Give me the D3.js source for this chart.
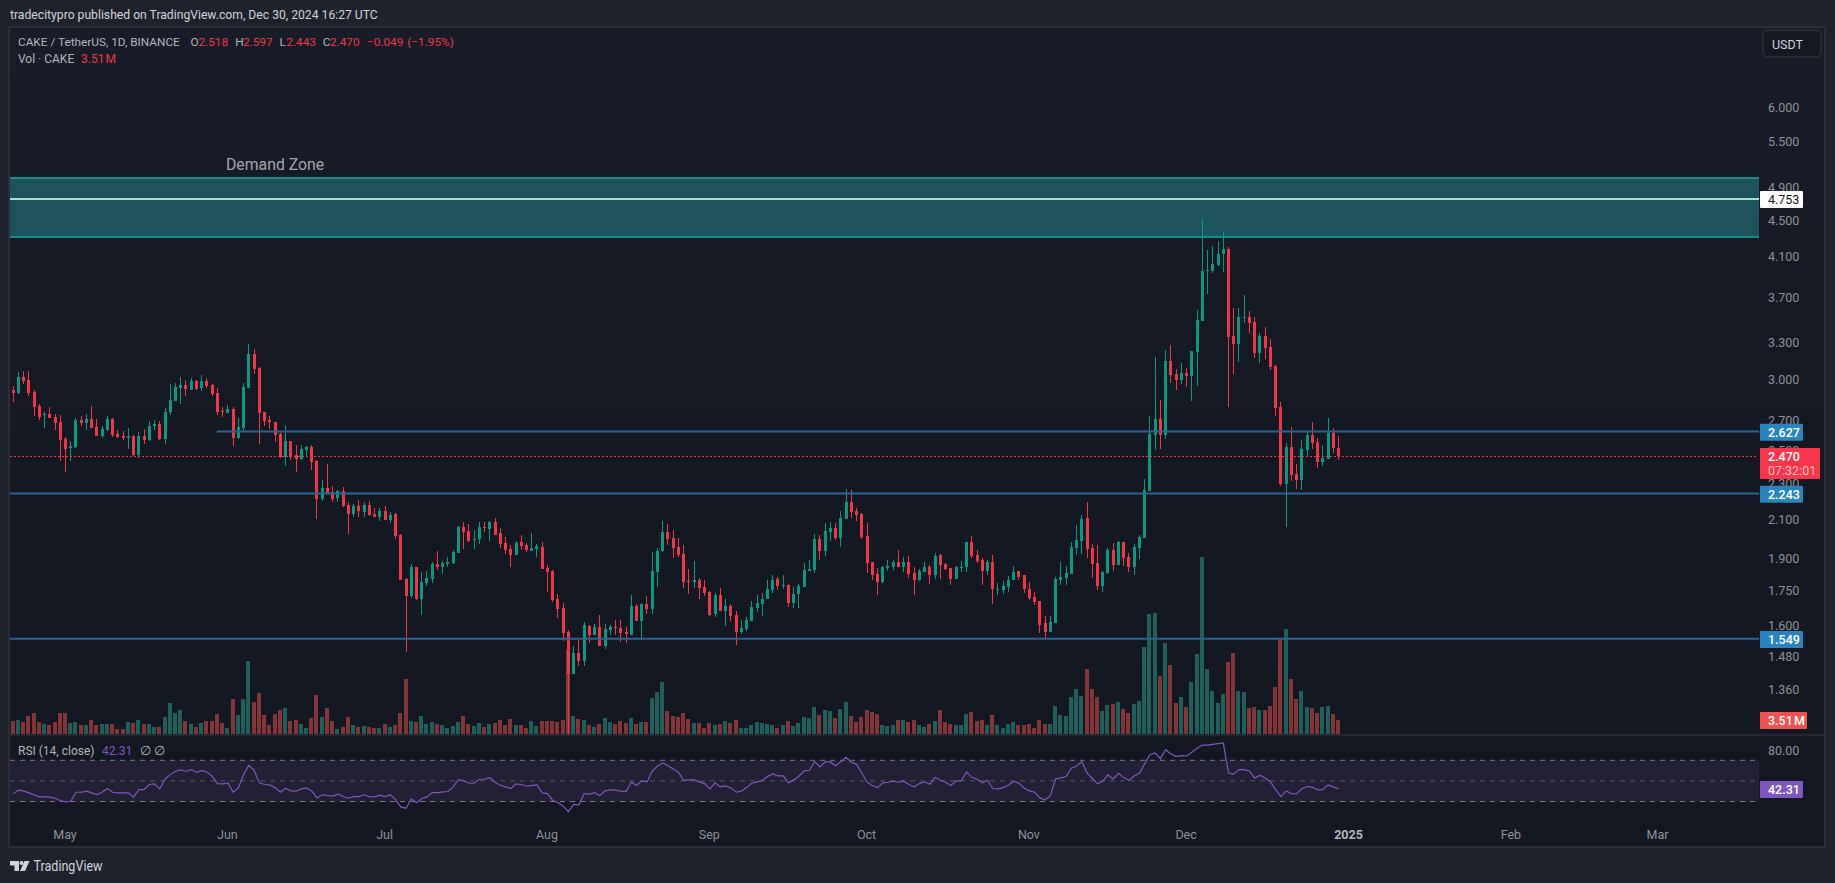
<!DOCTYPE html>
<html><head><meta charset="utf-8"><title>CAKE / TetherUS</title>
<script src="https://cdn.jsdelivr.net/npm/d3@7/dist/d3.min.js"></script>
<style>html,body{margin:0;padding:0;background:#1e222d;overflow:hidden}svg{display:block}text{font-family:Roboto,"Open Sans",sans-serif}</style>
</head><body><svg id="c" width="1835" height="883"></svg>
<script>
const startDate = "2024-04-21";
const monthTicks = [["2024-05-01","May"],["2024-06-01","Jun"],["2024-07-01","Jul"],["2024-08-01","Aug"],["2024-09-01","Sep"],["2024-10-01","Oct"],["2024-11-01","Nov"],["2024-12-01","Dec"],["2025-01-01","2025"],["2025-02-01","Feb"],["2025-03-01","Mar"]];
const priceTicks = [6,5.5,4.9,4.5,4.1,3.7,3.3,3,2.7,2.5,2.3,2.1,1.9,1.75,1.6,1.48,1.36];
const opens = [2.920,2.898,3.019,2.996,2.905,2.803,2.741,2.748,2.725,2.691,
2.577,2.519,2.526,2.705,2.684,2.712,2.657,2.596,2.636,2.712,
2.609,2.596,2.583,2.596,2.474,2.596,2.570,2.664,2.678,2.577,
2.762,2.840,2.935,2.958,2.920,2.988,2.935,2.988,2.958,2.898,
2.769,2.755,2.782,2.583,2.650,2.935,3.200,3.090,2.762,2.705,
2.691,2.609,2.461,2.564,2.474,2.449,2.507,2.526,2.436,2.212,
2.274,2.252,2.218,2.257,2.178,2.130,2.173,2.141,2.178,2.130,
2.114,2.146,2.097,2.130,2.018,1.804,1.727,1.859,1.715,1.786,
1.804,1.874,1.859,1.874,1.879,1.927,2.058,2.037,1.992,1.997,
2.058,2.048,2.085,2.028,1.977,1.948,1.917,1.982,1.967,1.937,
1.948,1.958,1.855,1.841,1.715,1.675,1.576,1.416,1.494,1.464,
1.600,1.564,1.596,1.521,1.584,1.596,1.592,1.576,1.564,1.684,
1.620,1.693,1.671,1.836,1.937,2.032,2.003,1.958,1.922,1.795,
1.790,1.800,1.767,1.745,1.651,1.732,1.662,1.684,1.647,1.576,
1.588,1.620,1.675,1.693,1.715,1.754,1.804,1.772,1.776,1.697,
1.736,1.767,1.841,1.846,1.997,1.937,2.032,2.053,2.003,2.102,
2.195,2.146,2.130,2.013,1.884,1.827,1.790,1.855,1.859,1.884,
1.859,1.884,1.832,1.800,1.836,1.859,1.822,1.917,1.874,1.855,
1.804,1.855,1.859,1.982,1.917,1.894,1.841,1.884,1.754,1.754,
1.767,1.800,1.841,1.822,1.759,1.723,1.706,1.612,1.576,1.612,
1.800,1.809,1.827,1.953,1.987,2.108,1.953,1.879,1.772,1.832,
1.941,1.869,1.982,1.907,1.859,1.953,2.003,2.257,2.603,2.712,
2.603,3.143,3.042,2.996,3.050,3.026,3.216,3.482,3.955,3.955,
4.017,4.130,4.183,3.351,3.283,3.507,3.516,3.472,3.208,3.351,
3.258,3.106,2.796,2.298,2.526,2.357,2.323,2.507,2.603,2.557,
2.430,2.449,2.616,2.518];
const closes = [2.898,3.019,2.988,2.898,2.796,2.725,2.748,2.718,2.684,2.570,
2.513,2.532,2.705,2.684,2.712,2.650,2.596,2.643,2.712,2.603,
2.590,2.583,2.596,2.474,2.596,2.570,2.664,2.678,2.577,2.762,
2.847,2.943,2.958,2.928,2.988,2.928,2.988,2.950,2.891,2.762,
2.762,2.782,2.583,2.657,2.943,3.200,3.082,2.755,2.698,2.691,
2.603,2.461,2.564,2.461,2.449,2.513,2.526,2.430,2.212,2.274,
2.246,2.212,2.257,2.173,2.130,2.173,2.146,2.178,2.125,2.114,
2.146,2.097,2.125,2.013,1.800,1.727,1.859,1.715,1.790,1.809,
1.874,1.859,1.879,1.884,1.932,2.058,2.032,1.987,1.997,2.058,
2.053,2.085,2.018,1.972,1.941,1.917,1.977,1.962,1.941,1.953,
1.962,1.851,1.836,1.711,1.671,1.572,1.416,1.494,1.464,1.604,
1.564,1.596,1.521,1.588,1.596,1.592,1.572,1.568,1.684,1.620,
1.693,1.671,1.841,1.937,2.032,1.997,1.953,1.917,1.790,1.790,
1.800,1.763,1.741,1.647,1.732,1.662,1.684,1.642,1.576,1.592,
1.625,1.680,1.697,1.715,1.759,1.800,1.772,1.776,1.697,1.736,
1.772,1.846,1.851,1.997,1.937,2.037,2.053,2.003,2.108,2.195,
2.141,2.125,2.008,1.879,1.822,1.790,1.859,1.864,1.884,1.859,
1.884,1.827,1.800,1.841,1.859,1.822,1.912,1.869,1.851,1.804,
1.859,1.859,1.982,1.912,1.889,1.841,1.884,1.759,1.759,1.772,
1.800,1.836,1.813,1.759,1.719,1.702,1.605,1.576,1.616,1.804,
1.813,1.832,1.958,1.992,2.102,1.948,1.874,1.772,1.836,1.941,
1.869,1.982,1.902,1.859,1.958,2.008,2.263,2.609,2.712,2.603,
3.143,3.034,2.996,3.050,3.026,3.224,3.491,3.955,3.965,4.026,
4.130,4.183,3.342,3.283,3.516,3.516,3.464,3.208,3.351,3.249,
3.098,2.789,2.298,2.526,2.351,2.323,2.513,2.603,2.551,2.430,
2.455,2.616,2.518,2.470];
const highs = [2.950,3.058,3.065,3.065,2.920,2.817,2.762,2.796,2.748,2.741,
2.590,2.564,2.718,2.732,2.748,2.803,2.712,2.664,2.732,2.718,
2.636,2.629,2.650,2.603,2.623,2.643,2.698,2.705,2.698,2.789,
2.965,2.970,3.019,2.996,3.011,2.996,3.034,3.011,2.965,2.935,
2.796,2.810,2.796,2.718,2.970,3.283,3.241,3.098,2.762,2.732,
2.691,2.616,2.671,2.564,2.538,2.538,2.532,2.538,2.442,2.323,
2.419,2.286,2.263,2.280,2.195,2.184,2.206,2.195,2.201,2.162,
2.162,2.173,2.141,2.135,2.024,1.809,1.874,1.859,1.836,1.841,
1.884,1.937,1.889,1.908,1.941,2.064,2.085,2.074,2.043,2.085,
2.085,2.090,2.108,2.053,2.008,1.967,1.987,2.018,1.977,2.028,
1.972,1.982,1.869,1.846,1.736,1.697,1.584,1.521,1.544,1.616,
1.604,1.608,1.647,1.608,1.604,1.625,1.625,1.596,1.732,1.693,
1.697,1.727,1.932,1.953,2.090,2.074,2.043,2.003,1.967,1.851,
1.889,1.809,1.800,1.750,1.741,1.763,1.715,1.693,1.662,1.625,
1.638,1.706,1.732,1.741,1.800,1.822,1.813,1.822,1.781,1.767,
1.781,1.879,1.894,2.024,2.018,2.080,2.085,2.080,2.146,2.269,
2.263,2.162,2.135,2.080,1.884,1.855,1.864,1.894,1.894,1.941,
1.908,1.912,1.859,1.851,1.884,1.869,1.927,1.922,1.879,1.855,
1.864,1.889,1.982,2.013,1.941,1.902,1.894,1.917,1.786,1.795,
1.818,1.864,1.841,1.822,1.790,1.745,1.706,1.642,1.642,1.813,
1.884,1.864,1.982,2.071,2.125,2.195,1.972,1.967,1.841,1.953,
1.977,1.987,1.982,1.927,1.972,2.018,2.329,2.732,3.175,2.847,
3.231,3.275,3.082,3.127,3.090,3.224,3.581,4.516,4.173,4.215,
4.269,4.368,4.204,3.599,3.599,3.720,3.572,3.516,3.377,3.429,
3.326,3.114,2.833,2.551,2.657,2.419,2.570,2.629,2.691,2.583,
2.538,2.718,2.650,2.597];
const lows = [2.833,2.891,2.965,2.876,2.732,2.705,2.650,2.718,2.636,2.436,
2.369,2.436,2.519,2.664,2.636,2.650,2.596,2.583,2.629,2.590,
2.583,2.570,2.513,2.467,2.455,2.545,2.564,2.636,2.570,2.545,
2.741,2.840,2.817,2.876,2.920,2.920,2.913,2.935,2.876,2.741,
2.725,2.755,2.532,2.577,2.629,2.935,3.042,2.545,2.664,2.643,
2.557,2.455,2.407,2.442,2.369,2.442,2.467,2.382,2.102,2.201,
2.246,2.195,2.195,2.167,2.024,2.114,2.114,2.114,2.119,2.114,
2.092,2.097,2.081,1.997,1.800,1.498,1.718,1.711,1.647,1.772,
1.786,1.846,1.827,1.859,1.874,1.927,1.948,1.982,1.948,1.972,
2.032,1.987,2.018,1.953,1.922,1.859,1.917,1.941,1.932,1.937,
1.908,1.851,1.745,1.702,1.633,1.540,1.210,1.416,1.445,1.445,
1.532,1.564,1.521,1.510,1.564,1.564,1.536,1.532,1.564,1.620,
1.544,1.651,1.651,1.767,1.932,1.967,1.902,1.908,1.763,1.736,
1.763,1.715,1.727,1.642,1.638,1.662,1.600,1.620,1.525,1.568,
1.580,1.620,1.658,1.642,1.715,1.741,1.754,1.759,1.680,1.675,
1.675,1.767,1.841,1.832,1.894,1.912,1.987,1.992,1.958,2.102,
2.108,2.090,1.997,1.832,1.800,1.732,1.786,1.841,1.846,1.859,
1.836,1.809,1.732,1.795,1.836,1.781,1.804,1.804,1.846,1.776,
1.804,1.836,1.836,1.902,1.879,1.776,1.822,1.693,1.732,1.736,
1.745,1.800,1.800,1.741,1.711,1.688,1.572,1.552,1.576,1.612,
1.776,1.776,1.827,1.917,1.922,1.902,1.809,1.754,1.745,1.827,
1.841,1.869,1.864,1.836,1.822,1.897,2.003,2.257,2.507,2.513,
2.577,2.970,2.920,2.965,2.943,2.840,2.950,3.482,3.730,3.934,
4.006,3.945,2.796,3.042,3.135,3.464,3.377,3.168,3.127,3.159,
3.073,2.732,2.286,2.060,2.316,2.269,2.263,2.461,2.513,2.394,
2.407,2.449,2.486,2.443];
const volumes = [3.25,3.5,3,4.5,5.25,3,2.5,2.25,3,5.25,
5.25,2.75,3,2.25,2.25,3.5,2.25,2.5,2.5,2.5,
1.25,1.25,3,2.75,3.5,2.5,2.5,1.75,1.75,4.25,
7.75,5.25,6,3.25,2.5,1.75,2.75,3.25,3.25,5,
2.75,1.5,8.75,4.75,8.75,18.25,8,10.25,4.75,2.25,
5,6,6.5,3.25,3.5,2.5,1.5,4,9.75,4.25,
6.5,3.25,1.25,1.75,4.25,2.25,1.75,2,1.75,1.5,
1.5,2.5,1.75,2.25,5.25,13.75,3.25,3,4.5,2.5,
3,2.5,2.25,1.5,2,3,4.5,2.5,2,2.75,
1.75,2.5,2.75,3.5,2.25,3.75,2.25,2.25,1.5,3.25,
2,3.25,3.25,3.25,3,3.5,21,4.5,3.75,3.5,
2.25,1.75,2.5,4,3,2.5,3.25,2.75,4,2.5,
3,3,9,10.5,13,5.75,4.5,4.25,5.25,3.75,
2.75,2.75,1.5,2.75,2.25,2.5,3.25,2.75,3.5,1.5,
1.5,2.25,3,2.75,2.5,2.25,1.5,2.25,3.25,2,
2.75,4.25,4,6.75,4.75,6,5.75,4,6.25,8,
4.5,3,4.25,6,5.5,5,2.25,2,2.25,3.5,
3.5,3,3.5,2.25,1.75,2.5,3.25,6,3,2.5,
2.25,2.25,5,5.5,3.25,3.5,2.25,4.75,2.25,1.5,
2.5,3,2.25,2.25,2.5,1.5,3.5,2.5,2.5,7,
4.75,4.5,9.25,11.25,9.5,16.25,11.25,9.25,5.75,7.25,
7.5,8,6.25,5.25,7.5,8.25,21.75,30,30.25,14.5,
22.75,17.25,7.75,9.25,6.75,13,20,44.25,16.25,10.75,
7.75,10,18,20.25,10.75,10.5,6.5,6.75,6,6,
7,11.75,23.75,26.25,13.75,8.75,10.75,6.75,6.5,5.25,
6.75,7,5,3.51];
const rsi = [37.4,41.0,40.3,38.4,36.5,34.5,34.5,34.2,33.2,31.0,
29.7,30.0,39.0,39.0,40.0,38.4,36.8,39.0,42.6,39.0,
38.4,38.4,38.4,34.2,41.6,41.6,46.5,47.1,42.3,51.9,
56.1,59.4,60.6,59.4,61.0,58.4,60.0,58.7,54.5,47.4,
47.1,48.1,39.0,43.2,56.1,65.2,60.3,48.1,46.5,46.1,
43.5,39.0,42.9,40.3,40.0,42.3,43.2,40.3,33.5,36.5,
35.8,35.2,37.1,34.8,33.2,34.8,34.8,36.5,34.8,34.5,
36.1,34.8,36.5,31.9,24.8,23.5,32.6,28.7,32.9,34.5,
38.7,38.7,39.4,39.7,44.2,51.3,50.3,47.7,47.7,51.6,
51.6,53.2,48.7,45.8,44.2,42.6,47.1,46.5,44.8,45.5,
46.1,38.4,37.7,31.0,29.0,25.5,20.3,27.1,26.8,37.7,
37.1,38.7,35.8,40.3,41.3,41.0,40.0,39.7,49.0,45.5,
50.0,49.0,59.4,64.5,67.4,64.8,61.6,58.4,50.6,51.0,
51.0,49.0,47.4,42.3,48.1,44.2,45.2,43.2,39.0,40.0,
43.5,47.7,49.0,50.3,54.2,56.8,54.8,54.8,48.1,51.0,
54.5,59.7,60.3,68.7,63.5,68.4,68.4,64.5,68.7,72.9,
68.1,66.1,57.7,49.0,45.5,43.5,48.1,48.7,49.7,48.7,
49.7,46.5,44.2,47.4,49.0,46.8,53.5,50.6,48.7,45.5,
50.0,50.0,58.7,53.5,51.6,48.1,50.6,42.6,42.3,43.5,
46.1,49.4,47.7,42.9,40.3,39.0,33.5,31.6,35.8,51.9,
52.9,54.2,62.3,64.2,68.7,57.7,52.3,47.1,49.7,55.8,
51.9,57.4,53.2,50.6,54.8,57.4,66.8,75.5,77.1,71.6,
80.3,76.1,73.9,74.5,74.2,77.7,81.6,84.8,84.8,85.5,
86.1,86.8,57.7,56.5,61.0,61.0,59.7,52.6,55.5,52.9,
49.0,41.6,34.8,40.3,37.7,37.4,42.3,44.5,43.9,41.3,
41.6,46.1,44.2,42.31];
const zoneTop = 5.014, zoneBottom = 4.313;
const whiteLevel = 4.753;
const levels = [{v:2.627,from:"2024-05-30"},{v:2.243,from:null},{v:1.549,from:null}];
const lastPrice = 2.470, lastVolume = "3.51\u200aM", lastRsi = 42.31;

const svg = d3.select("#c");
const defs = svg.append("defs");
const grad = defs.append("linearGradient").attr("id","bg").attr("x1",0).attr("y1",0).attr("x2",0).attr("y2",1);
grad.append("stop").attr("offset",0).attr("stop-color","#181c28");
grad.append("stop").attr("offset",0.5).attr("stop-color","#141823");
grad.append("stop").attr("offset",1).attr("stop-color","#131722");

const x = d3.scaleUtc().domain([new Date("2024-05-01T00:00:00Z"),new Date("2024-12-30T00:00:00Z")]).range([65,1338]);
const y = d3.scaleLog().domain([1.549,4.753]).range([638.7,199]);
const yVol = d3.scaleLinear().domain([0,44.25]).range([734,557]);
const yRsi = d3.scaleLinear().domain([30,70]).range([801.5,760.3]);
const dates = opens.map((_,i)=>d3.utcDay.offset(new Date(startDate+"T00:00:00Z"),i));
const px = i=>Math.round(x(dates[i]));
const UP="#089981",DN="#f23645",VUP="#1f5f5c",VDN="#843538";
const L=10,R=1759,AX=1825;

// frame
svg.append("rect").attr("width",1835).attr("height",883).attr("fill","#1e222d");
svg.append("rect").attr("x",L-1).attr("y",27).attr("width",AX-L+1).attr("height",820).attr("fill","url(#bg)").attr("stroke","#2a2e39").attr("stroke-width",2);

// zone under price
const gZone = svg.append("g");
gZone.append("rect").attr("x",L).attr("y",y(zoneTop)).attr("width",R-L).attr("height",y(zoneBottom)-y(zoneTop)).attr("fill","#1c535c");
[zoneTop,zoneBottom].forEach(v=>gZone.append("line").attr("x1",L).attr("x2",R).attr("y1",Math.round(y(v))).attr("y2",Math.round(y(v))).attr("stroke","#1a8a8c").attr("stroke-width",2));
gZone.append("line").attr("x1",L).attr("x2",R).attr("y1",y(whiteLevel)).attr("y2",y(whiteLevel)).attr("stroke","#a4e0dc").attr("stroke-width",2);

// volume
svg.append("g").attr("shape-rendering","crispEdges").selectAll("rect").data(volumes).join("rect")
 .attr("x",(d,i)=>px(i)-2).attr("width",4).attr("y",d=>yVol(d)).attr("height",d=>yVol(0)-yVol(d))
 .attr("fill",(d,i)=>closes[i]>=opens[i]?VUP:VDN);

// candles
const gC = svg.append("g").attr("shape-rendering","crispEdges");
gC.selectAll("line").data(opens).join("line")
 .attr("x1",(d,i)=>px(i)+.5).attr("x2",(d,i)=>px(i)+.5)
 .attr("y1",(d,i)=>y(highs[i])).attr("y2",(d,i)=>y(lows[i]))
 .attr("stroke",(d,i)=>closes[i]>=d?UP:DN).attr("stroke-width",1);
gC.selectAll("rect").data(opens).join("rect")
 .attr("x",(d,i)=>px(i)-1).attr("width",3)
 .attr("y",(d,i)=>y(Math.max(d,closes[i])))
 .attr("height",(d,i)=>Math.max(1,Math.abs(y(d)-y(closes[i]))))
 .attr("fill",(d,i)=>closes[i]>=d?UP:DN);

// price line & levels
const ly = Math.round(y(lastPrice))+.5;
svg.append("line").attr("x1",L).attr("x2",1757).attr("y1",ly).attr("y2",ly).attr("stroke",DN).attr("stroke-width",1).attr("stroke-dasharray","2 2").attr("shape-rendering","crispEdges");
levels.forEach(l=>svg.append("line").attr("x1",l.from?x(new Date(l.from+"T00:00:00Z")):L).attr("x2",R).attr("y1",y(l.v)).attr("y2",y(l.v)).attr("stroke","#2a6496").attr("stroke-width",2));

// demand label
svg.append("text").attr("x",226).attr("y",170).attr("fill","#a3a6af").attr("font-size",15.8).text("Demand Zone");

// pane separator
svg.append("line").attr("x1",L).attr("x2",AX).attr("y1",735).attr("y2",735).attr("stroke","#2a2e39").attr("stroke-width",1.5);

// RSI
svg.append("rect").attr("x",L).attr("width",R-L).attr("y",yRsi(70)).attr("height",yRsi(30)-yRsi(70)).attr("fill","#231f35");
[[70,"#787b86"],[50,"#555862"],[30,"#787b86"]].forEach(([v,c])=>svg.append("line").attr("x1",L).attr("x2",R).attr("y1",yRsi(v)).attr("y2",yRsi(v)).attr("stroke",c).attr("stroke-width",1).attr("stroke-dasharray","5 5"));
svg.append("path").datum(rsi).attr("fill","none").attr("stroke","#7e57c2").attr("stroke-width",1.2)
 .attr("d",d3.line().x((d,i)=>x(dates[i])+.5).y(d=>yRsi(d)));

// price axis
svg.append("g").selectAll("text").data(priceTicks).join("text")
 .attr("x",1768).attr("y",d=>y(d)+4.5).attr("fill","#8f929b").attr("font-size",12.5).text(d=>d.toFixed(3));
svg.append("text").attr("x",1768).attr("y",yRsi(80)+4.5).attr("fill","#8f929b").attr("font-size",12.5).text("80.00");

// time axis
svg.append("g").selectAll("text").data(monthTicks).join("text")
 .attr("x",d=>x(new Date(d[0]+"T00:00:00Z"))).attr("y",838.5).attr("text-anchor","middle")
 .attr("fill",d=>d[1]==="2025"?"#b2b5be":"#8f929b").attr("font-size",12.5).attr("font-weight",d=>d[1]==="2025"?700:400).text(d=>d[1]);

// axis tags
function tag(xa,w,yc,h,fill,txt,col,bold){
 svg.append("rect").attr("x",xa).attr("y",yc-h/2).attr("width",w).attr("height",h).attr("fill",fill).attr("rx",1);
 svg.append("text").attr("x",1768).attr("y",yc+4.5).attr("fill",col).attr("font-size",12.5).attr("font-weight",bold?500:400).text(txt);
}
tag(1760,43,y(whiteLevel)+.6,17,"#ffffff",whiteLevel.toFixed(3),"#131722");
tag(1760,43,y(2.627)+.8,17,"#2a84bf","2.627","#ffffff",true);
tag(1760,43,y(2.243)+.8,17,"#2a84bf","2.243","#ffffff",true);
tag(1760,43,y(1.549)+.8,17,"#2a84bf","1.549","#ffffff",true);
svg.append("rect").attr("x",1760).attr("y",448).attr("width",60).attr("height",31).attr("fill","#f7364a").attr("rx",1);
svg.append("text").attr("x",1768).attr("y",461).attr("fill","#fff").attr("font-size",12.5).attr("font-weight",500).text("2.470");
svg.append("text").attr("x",1768).attr("y",475).attr("fill","#fbc1c7").attr("font-size",12.5).text("07:32:01");
tag(1760,47,720.5,17,"#ef5350",lastVolume,"#ffffff",true);
tag(1760,43,yRsi(lastRsi)+.7,17,"#7e57c2",lastRsi.toFixed(2),"#ffffff",true);

// USDT
svg.append("rect").attr("x",1763).attr("y",30.5).attr("width",58).attr("height",26.5).attr("rx",5).attr("fill","#131722").attr("stroke","#2a2e39").attr("stroke-width",1.5);
svg.append("text").attr("x",1772).attr("y",48.5).attr("fill","#d1d4dc").attr("font-size",12.5).text("USDT");

// header
svg.append("text").attr("x",10).attr("y",19).attr("fill","#d1d4dc").attr("font-size",12.17).text("tradecitypro published on TradingView.com, Dec 30, 2024 16:27 UTC");
const hdr=[[18,"CAKE / TetherUS, 1D, BINANCE","#b2b5be"],[190.6,"O","#b2b5be"],[198.5,"2.518",DN],[235.3,"H","#b2b5be"],[243,"2.597",DN],[279.6,"L","#b2b5be"],[286.3,"2.443",DN],[322.7,"C","#b2b5be"],[330,"2.470",DN],[367,"\u22120.049",DN],[407.3,"(\u22121.95%)",DN]];
hdr.forEach(h=>svg.append("text").attr("x",h[0]).attr("y",46).attr("fill",h[2]).attr("font-size",11.8).text(h[1]));
svg.append("text").attr("x",18).attr("y",63).attr("fill","#b2b5be").attr("font-size",12).text("Vol \u00b7 CAKE");
svg.append("text").attr("x",81).attr("y",63).attr("fill",DN).attr("font-size",12).text(lastVolume);

// RSI legend
svg.append("text").attr("x",18).attr("y",754.5).attr("fill","#b2b5be").attr("font-size",12).text("RSI (14, close)");
svg.append("text").attr("x",102).attr("y",754.5).attr("fill","#7e57c2").attr("font-size",12).text(lastRsi.toFixed(2));
svg.append("text").attr("x",140).attr("y",754.5).attr("fill","#b2b5be").attr("font-size",13).text("\u2205");
svg.append("text").attr("x",154).attr("y",754.5).attr("fill","#b2b5be").attr("font-size",13).text("\u2205");

// footer logo
svg.append("path").attr("fill","#d1d4dc").attr("d","M10 861h9v10h-4.5v-5.5H10zM29.5 861l-4.5 10h-5l4.5-10z");
svg.append("circle").attr("cx",21.5).attr("cy",863).attr("r",2).attr("fill","#d1d4dc");
svg.append("text").attr("x",33.5).attr("y",871).attr("fill","#d1d4dc").attr("font-size",14).attr("textLength",69).attr("lengthAdjust","spacingAndGlyphs").text("TradingView");
</script></body></html>
